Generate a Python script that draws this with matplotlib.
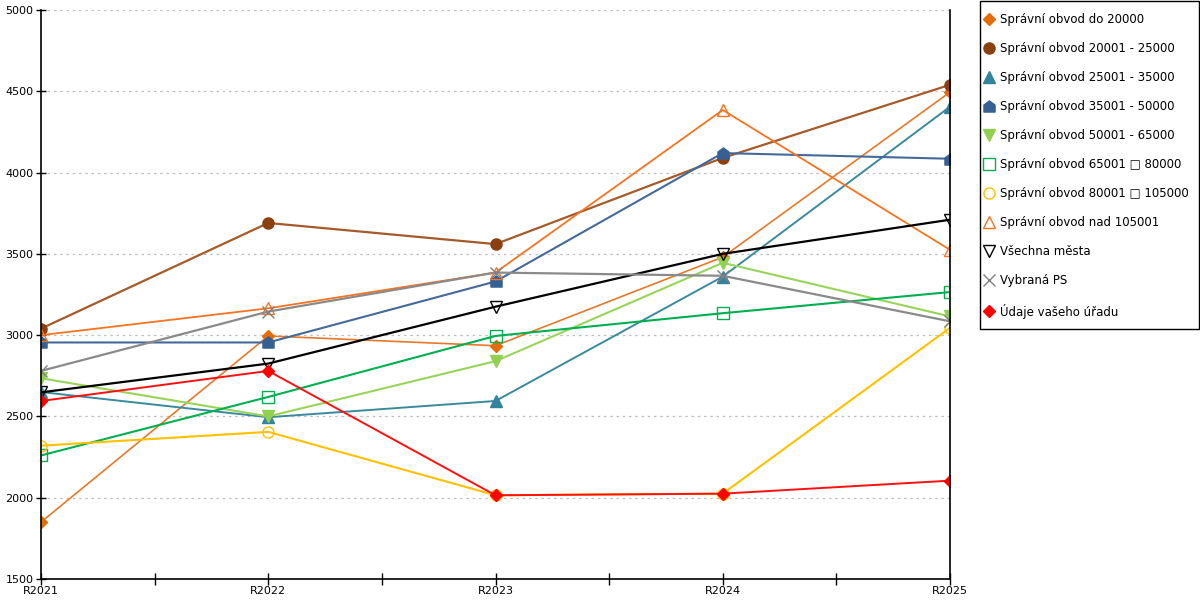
import numpy as np
import matplotlib.pyplot as plt
from matplotlib.path import Path
from matplotlib.lines import Line2D
from matplotlib.patches import Rectangle

# categories and values
years = ['R2021', 'R2022', 'R2023', 'R2024', 'R2025']

do_20000 = [1850, 2995, 2935, 3480, 4495]
od_20001 = [3040, 3690, 3560, 4090, 4540]
od_25001 = [2650, 2495, 2595, 3360, 4405]
od_35001 = [2955, 2955, 3330, 4120, 4085]
od_50001 = [2735, 2500, 2840, 3445, 3115]
od_65001 = [2260, 2620, 2995, 3135, 3265]
od_80001 = [2320, 2405, 2015, 2025, 3045]
nad_105001 = [3000, 3165, 3385, 4385, 3525]
vsechna = [2648, 2825, 3175, 3500, 3710]
vybrana = [2780, 3145, 3385, 3365, 3085]
urad = [2595, 2780, 2015, 2025, 2105]

labels = ['Správní obvod do 20000',
          'Správní obvod 20001 - 25000',
          'Správní obvod 25001 - 35000',
          'Správní obvod 35001 - 50000',
          'Správní obvod 50001 - 65000',
          'Správní obvod 65001 \u25a1 80000',
          'Správní obvod 80001 \u25a1 105000',
          'Správní obvod nad 105001',
          'Všechna města',
          'Vybraná PS',
          'Údaje vašeho úřadu']

# house shaped marker
house = Path([(-1, -1), (1, -1), (1, 0.25), (0, 1), (-1, 0.25), (-1, -1)],
             [Path.MOVETO, Path.LINETO, Path.LINETO, Path.LINETO, Path.LINETO, Path.CLOSEPOLY])

# (data, marker color, line color, marker, filled, size, linewidth)
series = [
    (do_20000, '#E46C0A', '#E8782A', 'D', True, 6.5, 1.2),
    (od_20001, '#8B4010', '#A65A2A', 'o', True, 8.0, 1.6),
    (od_25001, '#31849B', '#3A8A9E', '^', True, 8.5, 1.4),
    (od_35001, '#376092', '#44699A', house, True, 8.0, 1.5),
    (od_50001, '#92D050', '#98D45A', 'v', True, 8.5, 1.5),
    (od_65001, '#00B050', '#00B050', 's', False, 8.0, 1.5),
    (od_80001, '#FFC000', '#FFC000', 'o', False, 8.0, 1.5),
    (nad_105001, '#F7731F', '#F7731F', '^', False, 9.0, 1.3),
    (vsechna, '#000000', '#000000', 'v', False, 9.0, 1.6),
    (vybrana, '#808080', '#8A8A8A', 'x', False, 8.0, 1.6),
    (urad, '#FF0000', '#FF1010', 'D', True, 6.5, 1.4),
]

plt.rcParams['font.family'] = ['DejaVu Sans']
plt.rcParams['font.size'] = 8

fig = plt.figure(figsize=(12, 6), dpi=100)
ax = fig.add_axes([41 / 1200, 21 / 600, 909 / 1200, 569 / 600])

x = np.arange(len(years))
handles = []
for (vals, col, lcol, mk, filled, ms, lw), lab in zip(series, labels):
    face = col if (filled or mk == 'x') else 'none'
    ax.plot(x, vals, color=lcol, linewidth=lw, marker=mk, markersize=ms,
            markerfacecolor=face, markeredgecolor=col, markeredgewidth=1.0)
    handles.append(Line2D([], [], linestyle='none', marker=mk, markersize=ms,
                          color=col, markerfacecolor=face,
                          markeredgecolor=col, markeredgewidth=1.0))

ax.set_xlim(0, 4)
ax.set_ylim(1500, 5000)
ax.set_xticks(x)
ax.set_xticklabels(years)
ax.set_xticks([0.5, 1.5, 2.5, 3.5], minor=True)
ax.set_yticks(np.arange(1500, 5001, 500))
ax.tick_params(axis='x', which='both', direction='inout', length=8, width=1, pad=1)
ax.tick_params(axis='y', direction='inout', length=7, width=1, pad=2)
ax.yaxis.grid(True, color='#BFBFBF', linestyle=(0, (2, 3)), linewidth=0.9)
ax.set_axisbelow(True)

ax.spines['top'].set_visible(False)
for s in ['left', 'bottom', 'right']:
    ax.spines[s].set_color('black')
    ax.spines[s].set_linewidth(1.2)

# legend frame drawn separately so the padding matches the original box
fig.patches.append(Rectangle((980 / 1200, 271 / 600), 219 / 1200, 328 / 600,
                             transform=fig.transFigure, facecolor='white',
                             edgecolor='black', linewidth=1.0, zorder=0))
leg = fig.legend(handles, labels, loc='upper left',
                 bbox_to_anchor=(984 / 1200, 587 / 600), frameon=False,
                 fontsize=8.5, labelspacing=1.36, handlelength=0.9,
                 handletextpad=0.45, borderpad=0, borderaxespad=0)
leg.set_zorder(5)

fig.savefig('out.png', dpi=100)
